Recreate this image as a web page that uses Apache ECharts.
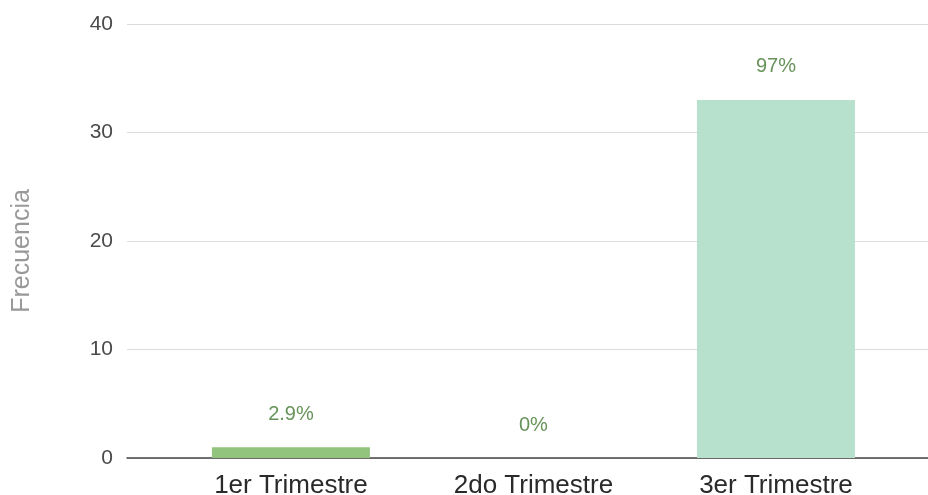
<!DOCTYPE html>
<html>
<head>
<meta charset="utf-8">
<script src="https://cdn.jsdelivr.net/npm/echarts@6/dist/echarts.min.js"></script>
<style>
  html, body { margin: 0; padding: 0; background: #fff; }
  #chart { width: 928px; height: 495px; }
</style>
</head>
<body>
<div id="chart"></div>
<script>
// Frecuencia por trimestre
const categories = ['1er Trimestre', '2do Trimestre', '3er Trimestre'];
const frequencies = [1, 0, 33];
const percentLabels = ['2.9%', '0%', '97%'];
const barColors = ['#93c47d', '#93c47d', '#b7e1cd'];
const yTicks = [0, 10, 20, 30, 40];

const chart = echarts.init(document.getElementById('chart'));

chart.setOption({
  animation: false,
  textStyle: { fontFamily: 'Liberation Sans, Arial, sans-serif' },
  grid: { left: 127, right: 0, top: 24, bottom: 37, outerBoundsMode: 'none', containLabel: false },
  xAxis: {
    type: 'value',
    min: -0.676,
    max: 2.627,
    splitLine: { show: false },
    axisLine: { show: true, onZero: false, lineStyle: { color: '#444', width: 1.5 } },
    axisTick: { show: false },
    axisLabel: {
      customValues: categories.map((_, i) => i),
      formatter: v => categories[Math.round(v)] || '',
      color: '#2a2a2a',
      fontSize: 26,
      margin: 15
    }
  },
  yAxis: {
    type: 'value',
    min: yTicks[0],
    max: yTicks[yTicks.length - 1],
    interval: 10,
    name: 'Frecuencia',
    nameLocation: 'middle',
    nameGap: 92,
    nameTextStyle: { color: '#999', fontSize: 25, padding: [0, 20, 0, 0] },
    axisLine: { show: false },
    axisTick: { show: false },
    axisLabel: { color: '#4a4a4a', fontSize: 21, margin: 14 },
    splitLine: { lineStyle: { color: '#dcdcdc', width: 1.2 } }
  },
  series: [{
    type: 'bar',
    barWidth: 158,
    data: frequencies.map((v, i) => ({
      value: [i, v],
      itemStyle: { color: barColors[i] }
    })),
    label: {
      show: true,
      position: 'top',
      distance: 23,
      color: '#67935a',
      fontSize: 20,
      formatter: p => percentLabels[p.dataIndex]
    }
  }]
});
</script>
</body>
</html>
